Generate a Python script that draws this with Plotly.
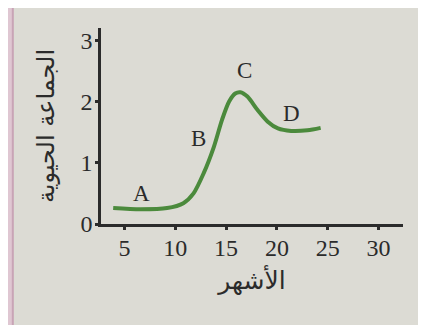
import plotly.graph_objects as go

# قراءة تقريبية من المنحنى
months = [3.9, 6.6, 9.2, 10.8, 11.8, 12.8, 13.8, 14.6, 15.3, 15.9, 16.4, 17.1,
          18.1, 19.1, 20.1, 21.4, 23.0, 24.3]
population = [0.26, 0.24, 0.26, 0.34, 0.50, 0.83, 1.26, 1.70, 2.00, 2.13, 2.15,
              2.08, 1.86, 1.67, 1.56, 1.52, 1.53, 1.57]

phase_labels = ["A", "B", "C", "D"]
phase_x = [6.7, 12.3, 16.8, 21.4]
phase_y = [0.5, 1.4, 2.5, 1.8]

x_ticks = [5, 10, 15, 20, 25, 30]
y_ticks = [0, 1, 2, 3]

ink = "#2b2b2b"
serif = "Liberation Serif"
arabic = "DejaVu Sans"

fig = go.Figure()

fig.add_trace(go.Scatter(
    x=months, y=population, mode="lines",
    line=dict(color="#4b8a3c", width=4, shape="spline", smoothing=0.8),
    hoverinfo="skip",
))

for lab, lx, ly in zip(phase_labels, phase_x, phase_y):
    fig.add_annotation(x=lx, y=ly, text=lab, showarrow=False,
                       font=dict(family=serif, size=23, color=ink))

# شريط وردي على يسار الصفحة
fig.add_shape(type="rect", xref="paper", yref="paper",
              x0=-0.31, x1=-0.292, y0=-0.6, y1=1.2,
              fillcolor="#dfc7d2", line_width=0, layer="below")
fig.add_shape(type="line", xref="paper", yref="paper",
              x0=-0.292, x1=-0.292, y0=-0.6, y1=1.2,
              line=dict(color="#c8a4b6", width=2), layer="below")

# الصفحة تُعرض بهامش 8 بكسل، فالهوامش معوّضة عنه
fig.update_layout(
    width=426, height=325,
    margin=dict(l=93, r=31, t=20, b=109),
    paper_bgcolor="#dcdbd4",
    plot_bgcolor="#dcdbd4",
    showlegend=False,
    xaxis=dict(
        range=[2.7, 32.4], tickvals=x_ticks, showgrid=False, zeroline=False,
        showline=True, linecolor=ink, linewidth=2.5,
        ticks="outside", ticklen=3, tickwidth=2.5, tickcolor=ink,
        tickfont=dict(family=serif, size=24, color=ink),
        ticklabelstandoff=-3,
        title=dict(text="الأشهر", standoff=12,
                   font=dict(family=arabic, size=25, color=ink)),
        automargin=False,
    ),
    yaxis=dict(
        range=[0, 3.2], tickvals=y_ticks, showgrid=False, zeroline=False,
        showline=True, linecolor=ink, linewidth=2.5,
        ticks="outside", ticklen=3, tickwidth=2.5, tickcolor=ink,
        tickfont=dict(family=serif, size=24, color=ink),
        ticklabelstandoff=-2,
        title=dict(text="الجماعة الحيوية", standoff=20,
                   font=dict(family=arabic, size=24, color=ink)),
        automargin=False,
    ),
)

fig.write_html("out.html")
